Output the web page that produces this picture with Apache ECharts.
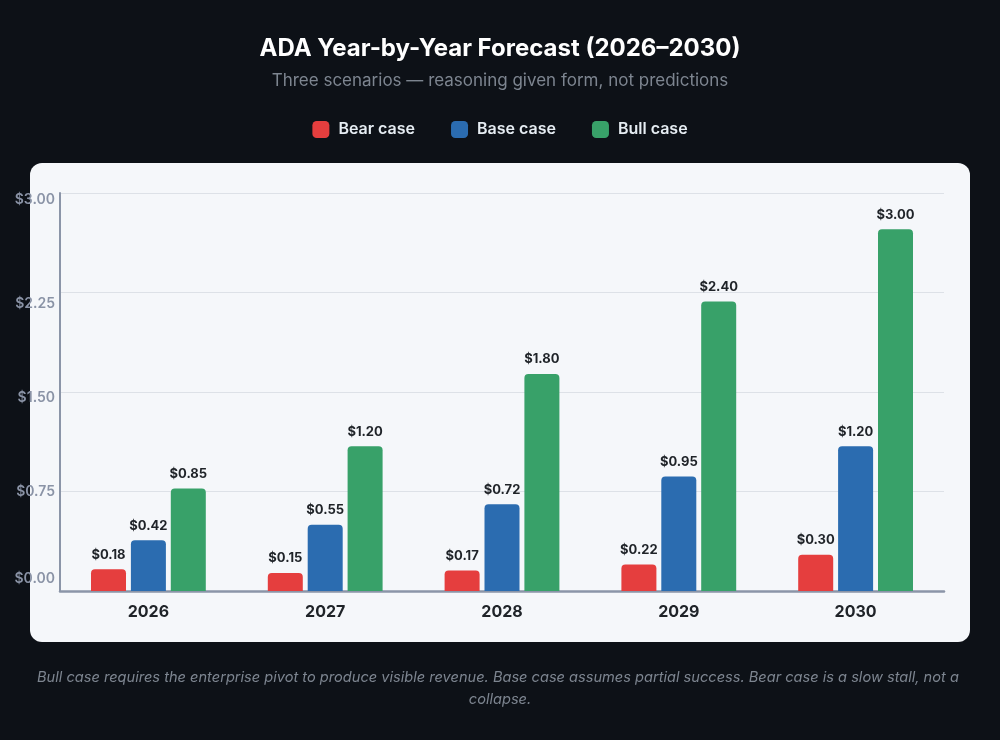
<!DOCTYPE html>
<html>
<head>
<meta charset="utf-8">
<title>ADA Year-by-Year Forecast</title>
<script src="https://cdn.jsdelivr.net/npm/echarts@6/dist/echarts.min.js"></script>
<style>
  html, body { margin: 0; padding: 0; background: #0d1117; }
  #chart { width: 1000px; height: 740px; }
</style>
</head>
<body>
<div id="chart"></div>
<script>
// data
var years = ['2026', '2027', '2028', '2029', '2030']
var bearCase = [0.18, 0.15, 0.17, 0.22, 0.30]
var baseCase = [0.42, 0.55, 0.72, 0.95, 1.20]
var bullCase = [0.85, 1.20, 1.80, 2.40, 3.00]
var yTickLabels = ['$0.00', '$0.75', '$1.50', '$2.25', '$3.00']

var FONT = 'Inter, "Noto Sans", sans-serif'
var chart = echarts.init(document.getElementById('chart'))

function barLabel () {
  return {
    show: true,
    position: 'top',
    distance: 8,
    fontFamily: FONT,
    fontSize: 13,
    fontWeight: 'bold',
    color: '#1f2328',
    formatter: function (p) { return '$' + p.value.toFixed(2) }
  }
}

// the tick labels in the picture sit a little off their grid lines
var tickRich = {
  s0: { padding: [0, 0, 24, 0] },
  s1: { padding: [0, 0, 0, 0] },
  s2: { padding: [12, 0, 0, 0] },
  s3: { padding: [22, 0, 0, 0] },
  s4: { padding: [14, 0, 0, 0] }
}
Object.keys(tickRich).forEach(function (k) {
  tickRich[k].fontFamily = FONT
  tickRich[k].fontSize = 14
  tickRich[k].fontWeight = 600
  tickRich[k].color = '#8a93a6'
})

var option = {
  backgroundColor: '#0d1117',
  animation: false,
  title: [
    {
      text: 'ADA Year-by-Year Forecast (2026–2030)',
      left: 'center',
      top: 32,
      textStyle: { fontFamily: FONT, fontSize: 24, fontWeight: 'bold', color: '#ffffff' }
    },
    {
      text: 'Three scenarios — reasoning given form, not predictions',
      left: 'center',
      top: 67,
      textStyle: { fontFamily: FONT, fontSize: 17, fontWeight: 'normal', color: '#7d8590' }
    }
  ],
  legend: {
    top: 116,
    left: 'center',
    itemWidth: 17,
    itemHeight: 17,
    itemGap: 36,
    icon: 'roundRect',
    textStyle: { fontFamily: FONT, fontSize: 16, fontWeight: 600, color: '#e6edf3', padding: [0, 0, 0, 4] },
    data: ['Bear case', 'Base case', 'Bull case']
  },
  graphic: [
    {
      type: 'rect',
      z: -10,
      shape: { x: 30, y: 163, width: 940, height: 479, r: 12 },
      style: { fill: '#f5f7fa' }
    },
    {
      type: 'text',
      x: 500,
      y: 667,
      style: {
        text: 'Bull case requires the enterprise pivot to produce visible revenue. Base case assumes partial success. Bear case is a slow stall, not a collapse.',
        fontFamily: FONT,
        fontSize: 14.6,
        fontStyle: 'italic',
        fill: '#7d8590',
        lineHeight: 22,
        width: 945,
        overflow: 'break',
        align: 'center',
        verticalAlign: 'top'
      }
    }
  ],
  grid: { left: 60, right: 56, top: 193, bottom: 149 },
  xAxis: {
    type: 'category',
    data: years,
    axisLine: { lineStyle: { color: '#8b95a8', width: 2.5 } },
    axisTick: { show: false },
    axisLabel: { fontFamily: FONT, fontSize: 16, fontWeight: 'bold', color: '#1f2328', margin: 13 }
  },
  yAxis: {
    type: 'value',
    min: 0,
    max: 3.3,
    interval: 0.825,
    axisLine: { show: true, lineStyle: { color: '#8b95a8', width: 2 } },
    axisTick: { show: false },
    splitLine: { lineStyle: { color: '#dde1e7', width: 1 } },
    axisLabel: {
      margin: 5,
      formatter: function (v) {
        var i = Math.round(v / 0.825)
        return '{s' + i + '|' + yTickLabels[i] + '}'
      },
      rich: tickRich
    }
  },
  series: [
    {
      name: 'Bear case',
      type: 'bar',
      data: bearCase,
      barWidth: 35,
      barGap: '14%',
      itemStyle: { color: '#e53e3e', borderRadius: [4, 4, 0, 0] },
      label: barLabel()
    },
    {
      name: 'Base case',
      type: 'bar',
      data: baseCase,
      barWidth: 35,
      barGap: '14%',
      itemStyle: { color: '#2b6cb0', borderRadius: [4, 4, 0, 0] },
      label: barLabel()
    },
    {
      name: 'Bull case',
      type: 'bar',
      data: bullCase,
      barWidth: 35,
      barGap: '14%',
      itemStyle: { color: '#38a169', borderRadius: [4, 4, 0, 0] },
      label: barLabel()
    }
  ]
}

chart.setOption(option)
</script>
</body>
</html>
